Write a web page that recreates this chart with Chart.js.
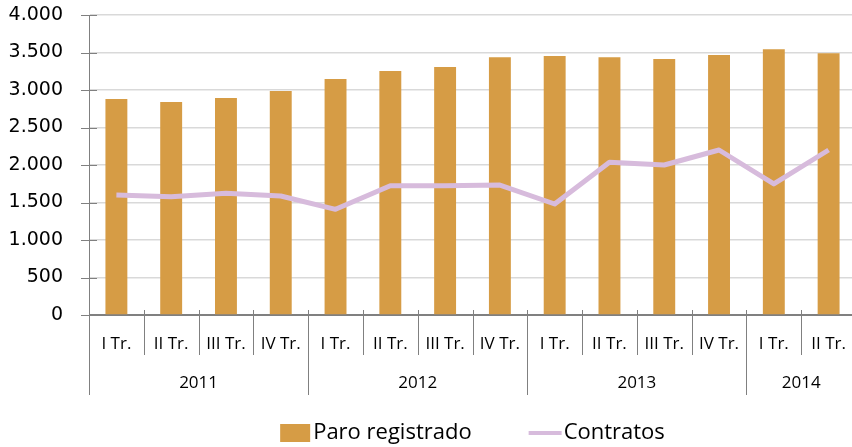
<!DOCTYPE html>
<html lang="es">
<head>
<meta charset="utf-8">
<title>Paro registrado y contratos</title>
<script src="https://cdn.jsdelivr.net/npm/chart.js@4.4.1/dist/chart.umd.min.js"></script>
<style>
  html, body { margin: 0; padding: 0; background: #fff; overflow: hidden; }
  #wrap { width: 860px; height: 447px; }
</style>
</head>
<body>
<div id="wrap"><canvas id="chart"></canvas></div>
<script>
// === Datos ===
const quarters = ["I Tr.", "II Tr.", "III Tr.", "IV Tr.", "I Tr.", "II Tr.", "III Tr.", "IV Tr.",
                  "I Tr.", "II Tr.", "III Tr.", "IV Tr.", "I Tr.", "II Tr."];
const years = ["2011", "2012", "2013", "2014"];
const quartersPerYear = [4, 4, 4, 2];
const paroRegistrado = [2880, 2840, 2893, 2987, 3147, 3253, 3307, 3436, 3453, 3436, 3413, 3467, 3542, 3489];
const contratos = [1600, 1578, 1622, 1587, 1409, 1724, 1724, 1733, 1480, 2036, 2000, 2200, 1747, 2200];
const yTicks = [0, 500, 1000, 1500, 2000, 2500, 3000, 3500, 4000];

const BAR_COLOR = "#D69C45";
const LINE_COLOR = "#D7BBDC";
const AXIS_COLOR = "#808080";

// formato 4.000 (separador de miles con punto)
function fmt(v) {
  return String(v).replace(/\B(?=(\d{3})+(?!\d))/g, ".");
}

// === Separadores, años y leyenda ===
const axisDecor = {
  id: "axisDecor",
  afterDraw(chart) {
    const { ctx, chartArea, scales: { x, y } } = chart;
    ctx.save();
    ctx.strokeStyle = AXIS_COLOR;
    ctx.lineWidth = 1;

    // marcas del eje Y (cruzan el eje)
    y.ticks.forEach((t) => {
      const py = Math.round(y.getPixelForValue(t.value)) + 0.5;
      ctx.beginPath();
      ctx.moveTo(chartArea.left - 8, py);
      ctx.lineTo(chartArea.left + 8, py);
      ctx.stroke();
    });

    // separadores de trimestres y de años
    const yearBounds = new Set();
    let acc = 0;
    quartersPerYear.forEach((n) => { yearBounds.add(acc); acc += n; });
    yearBounds.add(acc);
    for (let i = 0; i <= quarters.length; i++) {
      const px = Math.round(x.getPixelForValue(i - 0.5)) + 0.5;
      const long = yearBounds.has(i);
      ctx.beginPath();
      ctx.moveTo(px, chartArea.bottom - 5);
      ctx.lineTo(px, chartArea.bottom + (long ? 80 : 40));
      ctx.stroke();
    }

    // etiquetas de años
    ctx.font = "17px 'Open Sans'";
    ctx.fillStyle = "#000";
    ctx.textAlign = "center";
    ctx.textBaseline = "middle";
    let start = 0;
    years.forEach((yr, k) => {
      const n = quartersPerYear[k];
      const cx = x.getPixelForValue(start + (n - 1) / 2);
      ctx.fillText(yr, cx, chartArea.bottom + 68);
      start += n;
    });

    // leyenda
    ctx.font = "22px 'Open Sans'";
    ctx.textAlign = "left";
    const [barDs, lineDs] = [chart.data.datasets[1], chart.data.datasets[0]];
    const w1 = ctx.measureText(barDs.label).width;
    const w2 = ctx.measureText(lineDs.label).width;
    const total = 30 + 3 + w1 + 57 + 33 + 2 + w2;
    const legY = chart.height - 14;
    let lx = (chartArea.left + chartArea.right) / 2 - total / 2;
    ctx.fillStyle = barDs.backgroundColor;
    ctx.fillRect(lx, legY - 9, 30, 18);
    lx += 33;
    ctx.fillStyle = "#000";
    ctx.fillText(barDs.label, lx, legY);
    lx += w1 + 57;
    ctx.strokeStyle = lineDs.borderColor;
    ctx.lineWidth = 4;
    ctx.beginPath();
    ctx.moveTo(lx, legY);
    ctx.lineTo(lx + 33, legY);
    ctx.stroke();
    lx += 35;
    ctx.fillText(lineDs.label, lx, legY);

    ctx.restore();
  }
};

const ctx = document.getElementById("chart").getContext("2d");
new Chart(ctx, {
  data: {
    labels: quarters,
    datasets: [
      {
        type: "line",
        label: "Contratos",
        data: contratos,
        borderColor: LINE_COLOR,
        borderWidth: 5,
        borderJoinStyle: "round",
        pointRadius: 0,
        tension: 0,
        order: 0
      },
      {
        type: "bar",
        label: "Paro registrado",
        data: paroRegistrado,
        backgroundColor: BAR_COLOR,
        barPercentage: 0.4,
        categoryPercentage: 1,
        order: 1
      }
    ]
  },
  options: {
    responsive: true,
    maintainAspectRatio: false,
    animation: false,
    layout: { padding: { top: 15, right: 4, bottom: 52, left: 0 } },
    plugins: {
      legend: { display: false },
      tooltip: { enabled: false }
    },
    scales: {
      x: {
        offset: true,
        grid: { display: false },
        border: { display: true, color: AXIS_COLOR, width: 1 },
        ticks: {
          color: "#000",
          font: { family: "'Open Sans'", size: 17 },
          padding: 11,
          maxRotation: 0,
          autoSkip: false
        },
        afterFit: (scale) => { scale.height = 80; }
      },
      y: {
        min: 0,
        max: 4000,
        afterBuildTicks: (scale) => { scale.ticks = yTicks.map((v) => ({ value: v })); },
        grid: {
          color: (c) => (c.tick && c.tick.value === 0 ? AXIS_COLOR : "#D9D9D9"),
          lineWidth: 1.5,
          drawTicks: false
        },
        border: { display: true, color: AXIS_COLOR, width: 1 },
        ticks: {
          color: "#000",
          font: { family: "'DejaVu Sans'", size: 19 },
          padding: 26,
          callback: (v) => fmt(v)
        },
        afterFit: (scale) => {
          scale.width = 89;
          scale.paddingTop = 0;
          scale.paddingBottom = 0;
        }
      }
    }
  },
  plugins: [axisDecor]
});
</script>
</body>
</html>
